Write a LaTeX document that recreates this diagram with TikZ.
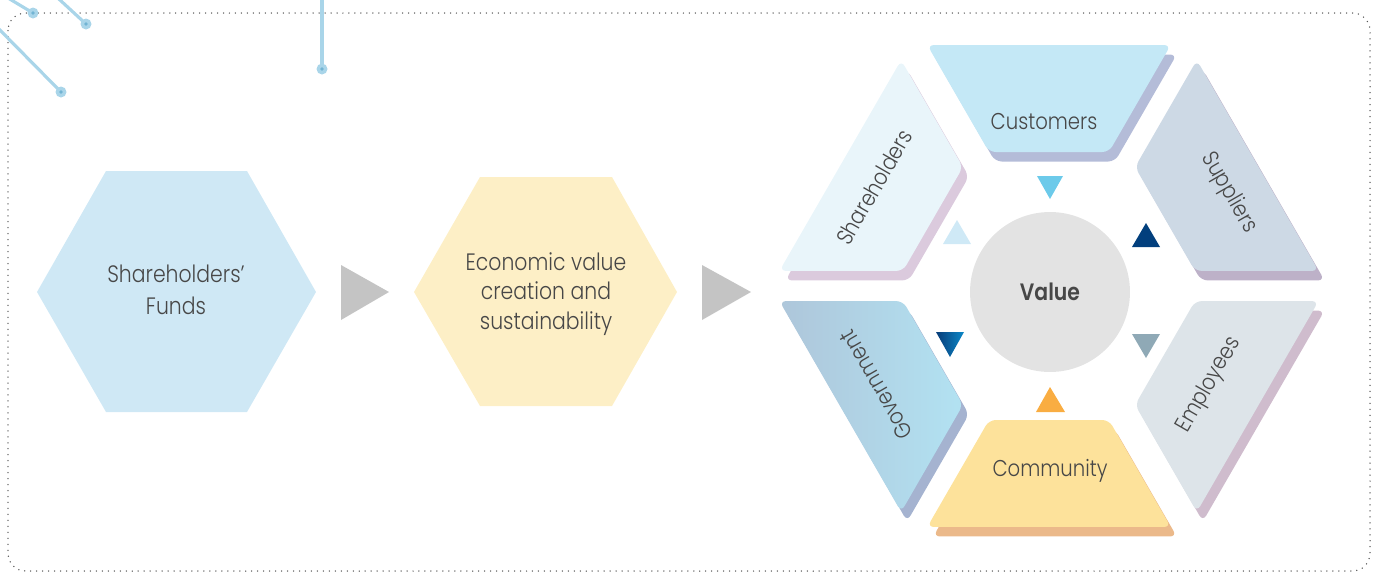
\documentclass[tikz,border=0pt]{standalone}
\usepackage{fontspec}
\IfFontExistsTF{Poppins Light}{\def\myupf{Poppins Light}}{\def\myupf{Poppins}}
\IfFontExistsTF{Poppins SemiBold}{\def\mybff{Poppins SemiBold}}{\def\mybff{Poppins Bold}}
\setmainfont{\myupf}[BoldFont=\mybff, FakeStretch=0.86]
\usetikzlibrary{calc}
\definecolor{txt}{HTML}{474747}
\definecolor{hexblue}{HTML}{CFE8F5}
\definecolor{hexyel}{HTML}{FDEFC6}
\definecolor{arrgray}{HTML}{C4C4C4}
\definecolor{valc}{HTML}{E3E3E3}
\definecolor{cusF}{HTML}{C4E8F6}\definecolor{cusS}{HTML}{B4BCD8}
\definecolor{supF}{HTML}{CDD9E5}\definecolor{supS}{HTML}{BDB1C8}
\definecolor{empF}{HTML}{DDE4E9}\definecolor{empS}{HTML}{CFBCCD}
\definecolor{comF}{HTML}{FDE29B}\definecolor{comS}{HTML}{EBB98A}
\definecolor{govL}{HTML}{AEC6DA}\definecolor{govR}{HTML}{B2E2F2}\definecolor{govS}{HTML}{A5B3D0}
\definecolor{shaF}{HTML}{E9F5FA}\definecolor{shaS}{HTML}{DBCADD}
\definecolor{tcus}{HTML}{6CCAEA}
\definecolor{tsup}{HTML}{023F7D}
\definecolor{tsha}{HTML}{CFE9F6}
\definecolor{tgovL}{HTML}{083C78}
\definecolor{tgovR}{HTML}{0C88C8}
\definecolor{tcom}{HTML}{F9AD42}
\definecolor{temp}{HTML}{8FA9B6}
\definecolor{deco}{HTML}{A9D5E9}
\definecolor{decod}{HTML}{72B4D3}
\definecolor{dotc}{HTML}{555555}
\newcommand{\pieceshape}[1]{({-(#1)-26.8}:270) -- ({-(#1)+26.8}:270) -- ({-(#1)+24.1}:146.8) -- ({-(#1)-24.1}:146.8) -- cycle}
\begin{document}
\begin{tikzpicture}[x=0.02cm, y=-0.02cm,
  lbl/.style={font=\fontsize{13}{16}\selectfont, text=txt, inner sep=0pt},
  hexlbl/.style={font=\fontsize{13.5}{17}\selectfont, text=txt, align=center, inner sep=0pt},
  piece/.style={rounded corners=3.8pt},
  decoline/.style={draw=deco, line width=1.8pt},
  border/.style={draw=dotc, line width=0.85pt, line cap=round, dash pattern=on 0pt off 3.4pt, rounded corners=10pt}]
\useasboundingbox (0,0) rectangle (1377,572);
\clip (0,0) rectangle (1377,572);
% border
\draw[border] (8,13) rectangle (1370,571);
% decorations
\draw[decoline] (-12,-14) -- (33,13);
\draw[decoline] (34,-24) -- (86,24);
\draw[decoline] (-10,20) -- (61,92);
\draw[decoline] (322,-5) -- (322,69);
\foreach \p in {(33,13),(86,24),(61,92),(322,69)}{
  \fill[deco] \p circle (5.5);
  \fill[decod] \p circle (1.8);
}
% left hexagons
\fill[hexblue] (106,171) -- (247,171) -- (316,292) -- (247,412) -- (106,412) -- (37,292) -- cycle;
\node[hexlbl, font=\fontsize{13.5}{18}\selectfont] (funds) at (176,290) {Shareholders’\\Funds};
\fill[arrgray] (341,265) -- (389,292) -- (341,320) -- cycle;
\fill[hexyel] (480,177) -- (612,177) -- (677,292) -- (612,406) -- (480,406) -- (414,292) -- cycle;
\node[hexlbl] (econ) at (546,294) {Economic value\\creation and\\sustainability};
\fill[arrgray] (702,265) -- (751,292) -- (702,320) -- cycle;
% shadows of pieces
\begin{scope}[shift={(1055,295.5)}]
  \fill[piece, cusS] \pieceshape{90};
  \fill[piece, supS] \pieceshape{30};
  \fill[piece, empS] \pieceshape{-30};
  \fill[piece, comS] \pieceshape{-90};
  \fill[piece, govS] \pieceshape{-150};
  \fill[piece, shaS] \pieceshape{150};
\end{scope}
% faces of pieces
\begin{scope}[shift={(1049,286)}]
  \fill[piece, cusF] \pieceshape{90};
  \fill[piece, supF] \pieceshape{30};
  \fill[piece, empF] \pieceshape{-30};
  \fill[piece, comF] \pieceshape{-90};
  \shade[piece, left color=govL, right color=govR] \pieceshape{-150};
  \fill[piece, shaF] \pieceshape{150};
\end{scope}
% labels
\node[lbl] (cus) at (1044,122) {Customers};
\node[lbl, rotate=-60] (sup) at (1229,193) {Suppliers};
\node[lbl, rotate=60] (emp) at (1209,385) {Employees};
\node[lbl] (com) at (1050,471) {Community};
\node[lbl, rotate=120] (gov) at (876,385) {Government};
\node[lbl, rotate=60] (sha) at (874,187) {Shareholders};
% centre
\node[circle, fill=valc, minimum size=3.2cm, inner sep=0pt, font=\fontsize{13.5}{16}\selectfont\bfseries, text=txt] (val) at (1050,292) {Value};
% small triangles
\fill[tcus] (1037,176) -- (1063,176) -- (1050,199) -- cycle;
\fill[tsup] (1132,247) -- (1160,247) -- (1146,223) -- cycle;
\fill[tsha] (943,244) -- (971,244) -- (957,220) -- cycle;
\shade[left color=tgovL, right color=tgovR] (936,332) -- (964,332) -- (950,357) -- cycle;
\fill[tcom] (1036,412) -- (1065,412) -- (1050,387) -- cycle;
\fill[temp] (1132,334) -- (1160,334) -- (1146,358) -- cycle;
\end{tikzpicture}
\end{document}
